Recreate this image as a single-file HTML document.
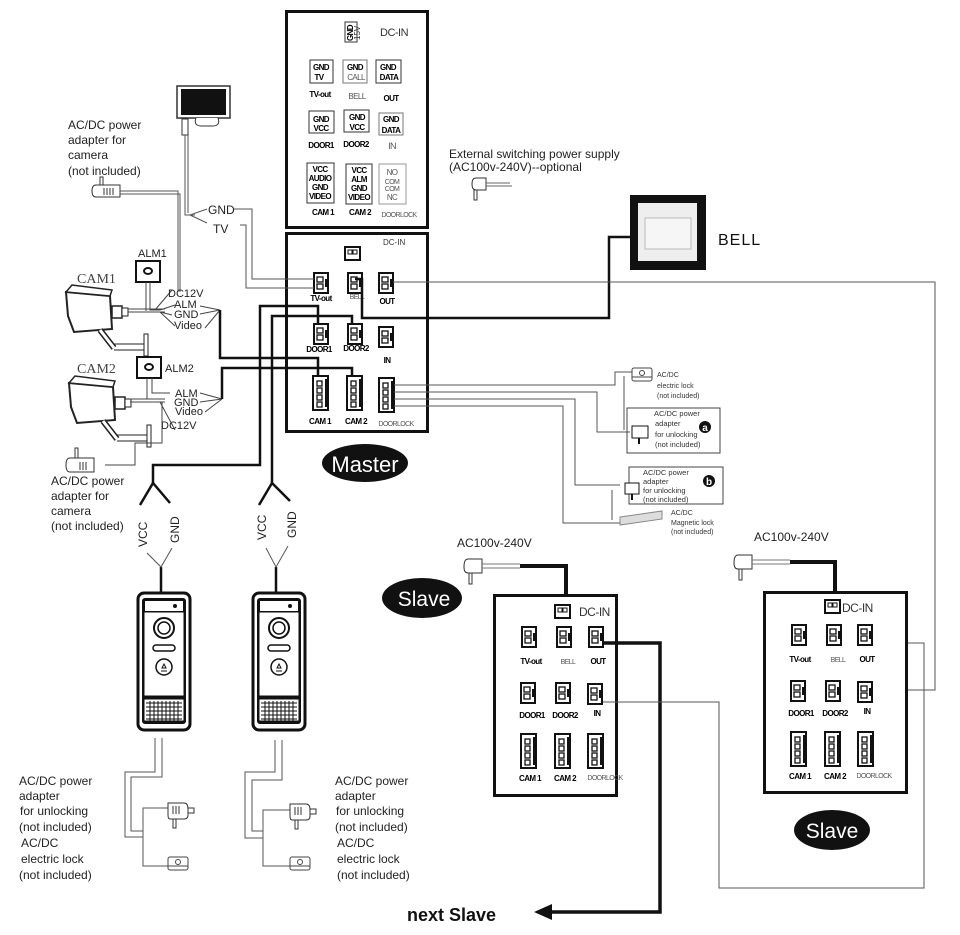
<!DOCTYPE html>
<html><head><meta charset="utf-8"><style>
html,body{margin:0;padding:0;background:#fff}
svg{display:block}
text{font-family:"Liberation Sans",sans-serif}
.c{font-family:"Liberation Sans",sans-serif;font-weight:bold;font-size:8px;letter-spacing:-0.6px}
.g{fill:#555;font-size:7px}
.serif{font-family:"Liberation Serif",serif}
</style></head><body>
<svg width="960" height="935" viewBox="0 0 960 935" xmlns="http://www.w3.org/2000/svg">
<defs>
<g id="cn"><rect x="0" y="0" width="14" height="20" fill="#fff" stroke="#111" stroke-width="2"/><rect x="3" y="4" width="6" height="5" fill="none" stroke="#111" stroke-width="1.3"/><rect x="3" y="11" width="6" height="5" fill="none" stroke="#111" stroke-width="1.3"/><rect x="11" y="6" width="3" height="8" fill="#111"/></g>
<g id="cn4"><rect x="0" y="0" width="15" height="34" fill="#fff" stroke="#111" stroke-width="2"/><rect x="4" y="5" width="5" height="5" fill="none" stroke="#111" stroke-width="1.3"/><rect x="4" y="12" width="5" height="5" fill="none" stroke="#111" stroke-width="1.3"/><rect x="4" y="19" width="5" height="5" fill="none" stroke="#111" stroke-width="1.3"/><rect x="4" y="26" width="5" height="5" fill="none" stroke="#111" stroke-width="1.3"/><rect x="12" y="3" width="3" height="28" fill="#111"/></g>
<g id="dc"><rect x="0" y="0" width="15" height="13" fill="#fff" stroke="#111" stroke-width="2"/><rect x="3" y="3" width="4" height="4" fill="none" stroke="#111"/><rect x="8" y="3" width="4" height="4" fill="none" stroke="#111"/></g>
<g id="plug"><path d="M0 0 h16 q4 0 4 6 v6 q0 4 -4 4 h-14 q-2 0 -2 -4z" fill="#fff" stroke="#333"/><line x1="5" y1="3" x2="5" y2="11" stroke="#333"/><line x1="8" y1="3" x2="8" y2="11" stroke="#333"/><line x1="11" y1="3" x2="11" y2="11" stroke="#333"/><rect x="5" y="16" width="3" height="9" fill="#fff" stroke="#333"/><rect x="20" y="5" width="6" height="5" fill="#fff" stroke="#333"/></g>
<g id="lock"><rect x="0" y="0" width="20" height="13" rx="2" fill="#fff" stroke="#444"/><circle cx="10" cy="5" r="2.5" fill="none" stroke="#444"/><line x1="0" y1="9" x2="20" y2="9" stroke="#444"/></g>
<g id="door"><rect x="0" y="0" width="52" height="137" rx="6" fill="#fff" stroke="#111" stroke-width="3"/><rect x="4" y="5" width="44" height="126" rx="3" fill="#111"/><rect x="7" y="8" width="38" height="10" fill="#fff"/><circle cx="37" cy="13" r="2" fill="#111"/><rect x="6" y="19" width="40" height="84" fill="#fff" stroke="#111"/><circle cx="26" cy="35" r="10" fill="#fff" stroke="#111" stroke-width="2"/><circle cx="26" cy="35" r="6" fill="#fff" stroke="#111" stroke-width="1.5"/><rect x="15" y="52" width="22" height="6" rx="3" fill="#fff" stroke="#111" stroke-width="1.5"/><circle cx="26" cy="74" r="8" fill="#fff" stroke="#111" stroke-width="1.5"/><path d="M23 78 h6 M24 75 l2 -4 l2 4z" stroke="#111" fill="none"/><rect x="6" y="106" width="40" height="22" fill="#fff" stroke="#111"/><path d="M8 110 h36 M8 114 h36 M8 118 h36 M8 122 h36 M8 126 h36 M12 108 v20 M16 108 v20 M20 108 v20 M24 108 v20 M28 108 v20 M32 108 v20 M36 108 v20 M40 108 v20" stroke="#111" stroke-width="1"/></g>
<g id="cam"><path d="M0 0 L44 4 L46 37 L8 40 L2 24z" fill="#fff" stroke="#222" stroke-width="2"/><path d="M0 0 L44 4 L46 -2 L6 -7z" fill="#fff" stroke="#222" stroke-width="1.5"/><rect x="46" y="14" width="10" height="12" fill="#fff" stroke="#222" stroke-width="1.5"/><rect x="56" y="16" width="6" height="8" fill="#fff" stroke="#222"/><path d="M34 38 L48 56" stroke="#222" stroke-width="6"/><path d="M34 38 L48 56" stroke="#fff" stroke-width="3"/><path d="M48 52 h32 M48 58 h32" stroke="#222"/><rect x="78" y="42" width="4" height="22" fill="#fff" stroke="#222"/></g>
</defs>

<!-- Top reference box -->
<rect x="286.5" y="11.5" width="141" height="216" fill="#fff" stroke="#111" stroke-width="3"/>
<rect x="345" y="22" width="12" height="20" fill="#fff" stroke="#333"/>
<text x="0" y="0" transform="translate(353,41) rotate(-90)" class="c" font-size="8">GND</text>
<text x="0" y="0" transform="translate(360,40) rotate(-90)" font-size="8" fill="#333">15V</text>
<text x="380" y="36" font-size="11" fill="#333" letter-spacing="-0.5">DC-IN</text>
<g class="c" text-anchor="middle">
<rect x="310" y="60" width="23" height="23" fill="#fff" stroke="#333"/><text x="321" y="70">GND</text><text x="319" y="80">TV</text>
<rect x="343" y="60" width="24" height="23" fill="#fff" stroke="#777"/><text x="355" y="70">GND</text><text x="356" y="80" font-weight="normal" fill="#555">CALL</text>
<rect x="376" y="60" width="25" height="23" fill="#fff" stroke="#333"/><text x="388" y="70">GND</text><text x="389" y="80">DATA</text>
<text x="320" y="97">TV-out</text><text x="357" y="99" font-weight="normal" fill="#555">BELL</text><text x="391" y="101">OUT</text>
<rect x="309" y="111" width="25" height="22" fill="#fff" stroke="#333"/><text x="321" y="122">GND</text><text x="321" y="131">VCC</text>
<rect x="344" y="110" width="25" height="22" fill="#fff" stroke="#333"/><text x="357" y="120">GND</text><text x="357" y="130">VCC</text>
<rect x="379" y="113" width="24" height="22" fill="#fff" stroke="#777"/><text x="391" y="122">GND</text><text x="391" y="133">DATA</text>
<text x="321" y="148">DOOR1</text><text x="356" y="147">DOOR2</text><text x="392" y="149" font-weight="normal" fill="#555" font-size="9">IN</text>
<rect x="307" y="163" width="27" height="40" fill="#fff" stroke="#333"/><text x="320" y="172">VCC</text><text x="320" y="181">AUDIO</text><text x="320" y="190">GND</text><text x="320" y="199">VIDEO</text>
<rect x="346" y="164" width="26" height="40" fill="#fff" stroke="#333"/><text x="359" y="173">VCC</text><text x="359" y="182">ALM</text><text x="359" y="191">GND</text><text x="359" y="200">VIDEO</text>
<rect x="379" y="164" width="27" height="40" fill="#fff" stroke="#999"/><g font-weight="normal" fill="#555"><text x="392" y="175" font-size="8">NO</text><text x="392" y="184" font-size="7">COM</text><text x="392" y="191" font-size="7">COM</text><text x="392" y="200" font-size="8">NC</text></g>
<text x="323" y="215">CAM 1</text><text x="360" y="215">CAM 2</text><text x="399" y="217" class="g" font-weight="normal">DOORLOCK</text>
</g>

<!-- Master box -->
<rect x="286.5" y="233.5" width="141" height="198" fill="#fff" stroke="#111" stroke-width="3"/>
<text x="383" y="245" font-size="8" fill="#333">DC-IN</text>
<use href="#dc" x="345" y="247"/>
<use href="#cn" x="314" y="273"/><use href="#cn" x="348" y="273"/><use href="#cn" x="379" y="273"/>
<use href="#cn" x="314" y="324"/><use href="#cn" x="348" y="324"/><use href="#cn" x="379" y="327"/>
<use href="#cn4" x="313" y="376"/><use href="#cn4" x="347" y="376"/><use href="#cn4" x="379" y="378"/>
<g class="c" text-anchor="middle"><text x="321" y="301">TV-out</text><text x="357" y="299" font-weight="normal" fill="#555" font-size="7">BELL</text><text x="387" y="304">OUT</text>
<text x="319" y="352">DOOR1</text><text x="356" y="351">DOOR2</text><text x="387" y="363">IN</text>
<text x="320" y="424">CAM 1</text><text x="356" y="424">CAM 2</text><text x="396" y="426" class="g" font-weight="normal">DOORLOCK</text></g>
<ellipse cx="365" cy="463" rx="43" ry="19" fill="#111"/>
<text x="365" y="472" text-anchor="middle" fill="#fff" font-size="22">Master</text>

<!-- Monitor -->
<rect x="177" y="86" width="53" height="32" fill="#fff" stroke="#333" stroke-width="1.5"/><rect x="181" y="89" width="45" height="26" fill="#111"/>
<path d="M196 118 q-3 8 6 8 h10 q9 0 6 -8" fill="#fff" stroke="#333"/>
<rect x="182" y="119" width="6" height="16" fill="#fff" stroke="#333"/>
<path d="M185 135 V215 H195 M188 135 V213" stroke="#555" fill="none"/>
<path d="M190 215 L207 209 M190 215 L207 223" stroke="#555"/>
<text x="208" y="214" font-size="12" fill="#222">GND</text><text x="213" y="233" font-size="12" fill="#222">TV</text>
<path d="M234 209 H252 V279 H314 M240 225 H246 V288 H314" stroke="#555" fill="none"/>

<!-- camera adapter top -->
<text x="68" y="129" font-size="12" fill="#222">AC/DC power</text><text x="68" y="144" font-size="12" fill="#222">adapter for</text><text x="68" y="159" font-size="12" fill="#222">camera</text><text x="68" y="175" font-size="12" fill="#222">(not included)</text>
<path d="M96 185 h24 v12 h-24 q-4 0 -4 -6 q0 -6 4 -6z" fill="#fff" stroke="#333"/><rect x="100" y="177" width="3" height="8" fill="#fff" stroke="#333"/><path d="M104 188 v7 M107 188 v7 M110 188 v7 M113 188 v7" stroke="#333"/>
<path d="M120 191 H178 V292 M120 194 H180 V292" stroke="#555" fill="none"/>

<!-- CAM1 -->
<text x="77" y="283" font-size="14" class="serif" fill="#444">CAM1</text>
<use href="#cam" x="66" y="292"/>
<text x="138" y="257" font-size="11" fill="#222">ALM1</text>
<rect x="136" y="261" width="24" height="21" fill="#fff" stroke="#111" stroke-width="2"/><ellipse cx="148" cy="271" rx="4" ry="3" fill="none" stroke="#111" stroke-width="2"/>
<path d="M146 282 V311 M150 282 V310 H160" stroke="#444" fill="none"/>
<path d="M128 309 H165 M128 312 H165" stroke="#444"/>
<path d="M155 310 L172 290 M160 310 L175 305 M160 312 L172 315 M160 312 L175 326" stroke="#444"/>
<g font-size="11" fill="#222"><text x="168" y="297">DC12V</text><text x="174" y="308">ALM</text><text x="174" y="318">GND</text><text x="174" y="329">Video</text></g>
<path d="M200 306 L220 310 M200 314 L220 310 M205 328 L220 310" stroke="#444"/>

<!-- CAM2 -->
<text x="77" y="373" font-size="14" class="serif" fill="#444">CAM2</text>
<use href="#cam" x="69" y="383"/>
<rect x="137" y="357" width="24" height="21" fill="#fff" stroke="#111" stroke-width="2"/><ellipse cx="149" cy="367" rx="4" ry="3" fill="none" stroke="#111" stroke-width="2"/>
<text x="165" y="372" font-size="11" fill="#222">ALM2</text>
<path d="M147 378 V399 M152 378 V393 H170" stroke="#444" fill="none"/>
<path d="M130 399 H165 M130 402 H165" stroke="#444"/>
<g font-size="11" fill="#222"><text x="175" y="397">ALM</text><text x="174" y="406">GND</text><text x="175" y="415">Video</text><text x="161" y="429">DC12V</text></g>
<path d="M200 393 L222 399 M200 402 L222 399 M205 412 L222 399" stroke="#444"/>
<path d="M160 402 L175 430 M162 402 V443 H135 V465 H105" stroke="#444" fill="none"/>
<path d="M70 458 h24 v14 h-24 q-4 0 -4 -7 q0 -7 4 -7z" fill="#fff" stroke="#333"/><rect x="75" y="448" width="3" height="10" fill="#fff" stroke="#333"/><path d="M80 462 v8 M83 462 v8 M86 462 v8" stroke="#333"/>
<g font-size="12" fill="#222"><text x="51" y="485">AC/DC power</text><text x="51" y="500">adapter for</text><text x="51" y="515">camera</text><text x="51" y="530">(not included)</text></g>

<!-- Thick lines to master -->
<g stroke="#111" stroke-width="2.5" fill="none">
<path d="M220 310 V358 H318 V376"/>
<path d="M222 399 V368 H352 V376"/>
<path d="M153 483 V465 H260 V306 H318 V324"/>
<path d="M272 483 V316 H352 V324"/>
<path d="M355 279 H362 V318 H609 V237 H630"/>
</g>
<path d="M393 282 H935 V690 H872" stroke="#555" fill="none"/>

<!-- doorlock lines -->
<g stroke="#555" fill="none">
<path d="M394 385 H615 V372 H632"/>
<path d="M394 392 H597 V432 H630"/>
<path d="M394 399 H575 V485 H620"/>
<path d="M394 406 H563 V523 H620"/>
<path d="M624 376 V412 V430"/>
<path d="M612 490 V520"/>
</g>
<use href="#lock" x="632" y="368"/>
<g font-size="7" fill="#333"><text x="657" y="377">AC/DC</text><text x="657" y="388">electric lock</text><text x="657" y="398">(not included)</text></g>
<rect x="627" y="408" width="93" height="45" fill="none" stroke="#444"/>
<g font-size="7.5" fill="#333"><text x="654" y="416">AC/DC power</text><text x="655" y="426">adapter</text><text x="655" y="437">for unlocking</text><text x="655" y="447">(not included)</text></g>
<circle cx="705" cy="427" r="6" fill="#111"/><text x="705" y="431" text-anchor="middle" font-size="10" font-weight="bold" fill="#fff">a</text>
<rect x="632" y="426" width="16" height="12" fill="#fff" stroke="#111"/><rect x="638" y="438" width="2" height="6" fill="#111"/>
<rect x="629" y="467" width="94" height="37" fill="none" stroke="#444"/>
<g font-size="7.5" fill="#333"><text x="643" y="475">AC/DC power</text><text x="643" y="484">adapter</text><text x="643" y="493">for unlocking</text><text x="643" y="502">(not included)</text></g>
<circle cx="709" cy="481" r="6" fill="#111"/><text x="709" y="485" text-anchor="middle" font-size="10" font-weight="bold" fill="#fff">b</text>
<rect x="625" y="483" width="14" height="11" fill="#fff" stroke="#111"/><rect x="631" y="494" width="2" height="6" fill="#111"/>
<path d="M620 517 l42 -6 v8 l-42 6z" fill="#ddd" stroke="#888"/>
<g font-size="7" fill="#333"><text x="671" y="515">AC/DC</text><text x="671" y="525">Magnetic lock</text><text x="671" y="534">(not included)</text></g>

<!-- External supply -->
<g font-size="12" fill="#222"><text x="449" y="158">External switching power supply</text><text x="449" y="171">(AC100v-240V)--optional</text></g>
<path d="M476 178 h10 v12 h-10 q-4 0 -4 -6 q0 -6 4 -6z" fill="#fff" stroke="#333"/><rect x="474" y="190" width="3" height="10" fill="#fff" stroke="#333"/><path d="M486 183 H510 M486 186 H512" stroke="#666"/>

<!-- Bell -->
<rect x="630" y="195" width="76" height="75" fill="#111"/><rect x="638" y="203" width="59" height="58" fill="#eee"/><rect x="645" y="218" width="46" height="31" fill="#f6f6f6" stroke="#bbb"/>
<text x="718" y="245" font-size="16" fill="#111" letter-spacing="1">BELL</text>

<!-- Door stations -->
<g stroke="#111" stroke-width="2.5" fill="none">
<path d="M140 505 L153 483 L170 503"/><path d="M259 505 L272 483 L290 501"/>
<path d="M161 567 V592"/><path d="M276 567 V592"/>
</g>
<path d="M147 553 L161 567 L172 548 M266 548 L276 567 L288 546" stroke="#555" fill="none"/>
<text transform="translate(147,547) rotate(-90)" font-size="12" fill="#222">VCC</text>
<text transform="translate(179,543) rotate(-90)" font-size="12" fill="#222">GND</text>
<text transform="translate(266,540) rotate(-90)" font-size="12" fill="#222">VCC</text>
<text transform="translate(296,538) rotate(-90)" font-size="12" fill="#222">GND</text>
<use href="#door" x="138" y="593"/><use href="#door" x="253" y="593"/>
<path d="M155 738 V772 H125 V837 H143 V808 H168 M162 738 V777 H131 V831 H143 V866 H168" stroke="#555" fill="none"/>
<path d="M275 740 V772 H245 V838 H263 V810 H290 M282 740 V780 H252 V831 H263 V866 H290" stroke="#555" fill="none"/>
<use href="#plug" x="168" y="803"/><use href="#plug" x="290" y="804"/>
<use href="#lock" x="168" y="857"/><use href="#lock" x="290" y="857"/>
<g font-size="12" fill="#222"><text x="19" y="785">AC/DC power</text><text x="19" y="800">adapter</text><text x="20" y="815">for unlocking</text><text x="19" y="831">(not included)</text><text x="21" y="847">AC/DC</text><text x="21" y="863">electric lock</text><text x="19" y="879">(not included)</text>
<text x="335" y="785">AC/DC power</text><text x="335" y="800">adapter</text><text x="336" y="815">for unlocking</text><text x="335" y="831">(not included)</text><text x="337" y="847">AC/DC</text><text x="337" y="863">electric lock</text><text x="337" y="879">(not included)</text></g>

<!-- Slave 1 -->
<text x="457" y="547" font-size="12" fill="#222">AC100v-240V</text>
<path d="M468 559 h14 v14 h-14 q-4 0 -4 -6 q0 -8 4 -8z" fill="#fff" stroke="#333"/><rect x="469" y="573" width="3" height="11" fill="#fff" stroke="#333"/><path d="M482 564 H520 M482 568 H520" stroke="#777"/>
<path d="M520 566 H566 V605" stroke="#111" stroke-width="4" fill="none"/>
<ellipse cx="422" cy="598" rx="40" ry="20" fill="#111"/><text x="424" y="606" text-anchor="middle" fill="#fff" font-size="21">Slave</text>
<rect x="494.5" y="595.5" width="122" height="200" fill="#fff" stroke="#111" stroke-width="3"/>
<use href="#dc" x="555" y="605"/><text x="579" y="616" font-size="12" fill="#333" letter-spacing="-0.5">DC-IN</text>
<use href="#cn" x="522" y="627"/><use href="#cn" x="557" y="627"/><use href="#cn" x="589" y="627"/>
<use href="#cn" x="521" y="683"/><use href="#cn" x="556" y="683"/><use href="#cn" x="588" y="684"/>
<use href="#cn4" x="521" y="734"/><use href="#cn4" x="555" y="734"/><use href="#cn4" x="588" y="734"/>
<g class="c" text-anchor="middle"><text x="531" y="664">TV-out</text><text x="568" y="664" font-weight="normal" fill="#555" font-size="7">BELL</text><text x="598" y="664">OUT</text>
<text x="532" y="718">DOOR1</text><text x="565" y="718">DOOR2</text><text x="597" y="716">IN</text>
<text x="530" y="781">CAM 1</text><text x="565" y="781">CAM 2</text><text x="605" y="780" class="g" font-weight="normal">DOORLOCK</text></g>
<path d="M603 643 H660 V912 H545" stroke="#111" stroke-width="3.5" fill="none"/>
<path d="M534 912 L552 904 V920z" fill="#111"/>
<text x="407" y="921" font-size="18" font-weight="bold" fill="#111">next  Slave</text>
<path d="M603 702 H719 V888 H924 V643 H872" stroke="#555" fill="none"/>

<!-- Slave 2 -->
<text x="754" y="541" font-size="12" fill="#222">AC100v-240V</text>
<path d="M738 555 h14 v14 h-14 q-4 0 -4 -6 q0 -8 4 -8z" fill="#fff" stroke="#333"/><rect x="739" y="569" width="3" height="11" fill="#fff" stroke="#333"/><path d="M752 560 H790 M752 564 H790" stroke="#777"/>
<path d="M790 562 H835 V602" stroke="#111" stroke-width="4" fill="none"/>
<rect x="764.5" y="592.5" width="142" height="200" fill="#fff" stroke="#111" stroke-width="3"/>
<use href="#dc" x="825" y="600"/><text x="842" y="612" font-size="12" fill="#333" letter-spacing="-0.5">DC-IN</text>
<use href="#cn" x="792" y="625"/><use href="#cn" x="827" y="625"/><use href="#cn" x="858" y="625"/>
<use href="#cn" x="791" y="681"/><use href="#cn" x="826" y="681"/><use href="#cn" x="858" y="682"/>
<use href="#cn4" x="791" y="732"/><use href="#cn4" x="825" y="732"/><use href="#cn4" x="858" y="732"/>
<g class="c" text-anchor="middle"><text x="800" y="662">TV-out</text><text x="838" y="662" font-weight="normal" fill="#555" font-size="7">BELL</text><text x="867" y="662">OUT</text>
<text x="801" y="716">DOOR1</text><text x="835" y="716">DOOR2</text><text x="867" y="714">IN</text>
<text x="800" y="779">CAM 1</text><text x="835" y="779">CAM 2</text><text x="874" y="778" class="g" font-weight="normal">DOORLOCK</text></g>
<ellipse cx="832" cy="830" rx="38" ry="20" fill="#111"/><text x="832" y="838" text-anchor="middle" fill="#fff" font-size="21">Slave</text>
</svg>
</body></html>
